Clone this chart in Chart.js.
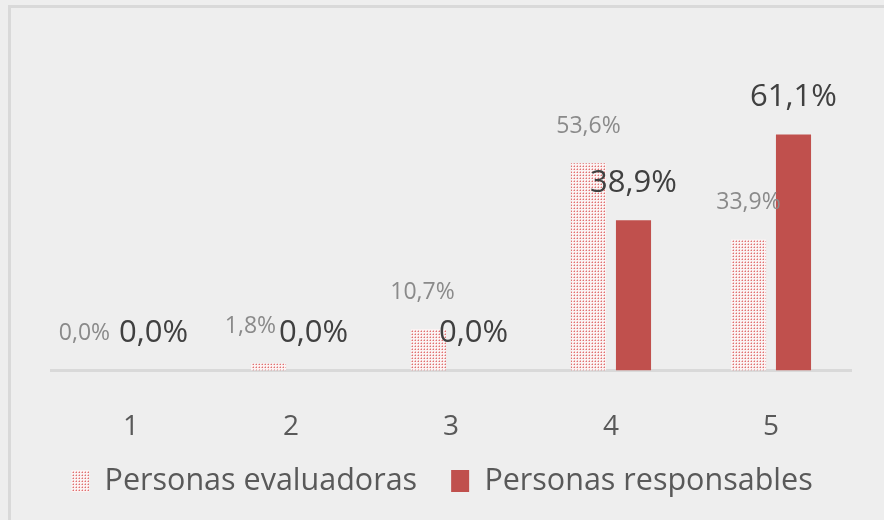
<!DOCTYPE html>
<html>
<head>
<meta charset="utf-8">
<script src="https://cdn.jsdelivr.net/npm/chart.js@4.4.1/dist/chart.umd.min.js"></script>
<style>
html,body{margin:0;padding:0;background:#eeeeee;}
#wrap{position:relative;width:884px;height:520px;}
#frame{position:absolute;left:8px;top:5px;width:900px;height:600px;border-left:3px solid #d9d9d9;border-top:3px solid #d9d9d9;box-sizing:border-box;}
canvas{position:absolute;left:0;top:0;}
</style>
</head>
<body>
<div id="wrap"><div id="frame"></div><canvas id="c" width="884" height="520"></canvas></div>
<script>
const categories = ['1', '2', '3', '4', '5'];
const seriesNames = ['Personas evaluadoras', 'Personas responsables'];
const evaluadoras = [0.0, 1.8, 10.7, 53.6, 33.9];
const responsables = [0.0, 0.0, 0.0, 38.9, 61.1];

function makePattern() {
  const p = document.createElement('canvas');
  p.width = 3; p.height = 3;
  const g = p.getContext('2d');
  g.fillStyle = '#fbf3f3';
  g.fillRect(0, 0, 3, 3);
  g.fillStyle = '#e07070';
  g.fillRect(1, 1, 1, 1);
  g.fillStyle = '#f0b8b8';
  g.fillRect(0, 1, 1, 1);
  g.fillRect(1, 0, 1, 1);
  return g.createPattern(p, 'repeat');
}
const pattern = makePattern();

const fmt = v => v.toFixed(1).replace('.', ',') + '%';

const labelPlugin = {
  id: 'barLabels',
  afterDatasetsDraw(chart) {
    const ctx = chart.ctx;
    const styles = [
      {font: '23px "Open Sans", sans-serif', color: '#8a8a8a', dx: [-24, -18, -6, 0, 0]},
      {font: '31px "Open Sans", sans-serif', color: '#404040', dx: [0, 0, 0, 0, 0]}
    ];
    chart.data.datasets.forEach((ds, di) => {
      const meta = chart.getDatasetMeta(di);
      const st = styles[di];
      ctx.save();
      ctx.font = st.font;
      ctx.fillStyle = st.color;
      ctx.textAlign = 'center';
      ctx.textBaseline = 'middle';
      meta.data.forEach((bar, i) => {
        ctx.fillText(fmt(ds.data[i]), bar.x + st.dx[i], bar.y - 37);
      });
      ctx.restore();
    });
  }
};

const LEGEND_PAD = 34;
const LEGEND_FONT = 30.5;
const legendSizePlugin = {
  id: 'legendSize',
  beforeLayout(chart) {
    const lg = chart.legend;
    if (lg && !lg._sized) {
      const f = lg.fit;
      lg.fit = function () { f.call(this); this.height = 36; };
      lg._sized = true;
    }
  },
  afterLayout(chart) {
    const lg = chart.legend;
    if (lg) {
      lg.top = 484 - LEGEND_PAD - LEGEND_FONT * 0.6;
      lg.bottom = chart.height;
      lg.height = lg.bottom - lg.top;
    }
  }
};

const hiddenAxis = (pos, w) => ({
  position: pos,
  display: true,
  min: 0,
  max: 70,
  grid: {display: false, drawTicks: false},
  border: {display: false},
  ticks: {display: false},
  afterFit(scale) { scale.width = w; }
});

const yLeft = hiddenAxis('left', 51);
const yRight = hiddenAxis('right', 33);

new Chart(document.getElementById('c'), {
  type: 'bar',
  data: {
    labels: categories,
    datasets: [
      {label: seriesNames[0], data: evaluadoras, backgroundColor: pattern, borderWidth: 0},
      {label: seriesNames[1], data: responsables, backgroundColor: '#c0504d', borderWidth: 0}
    ]
  },
  options: {
    responsive: false,
    animation: false,
    categoryPercentage: 0.5625,
    barPercentage: 0.78,
    layout: {padding: {left: 0, right: 0, top: 100, bottom: 0}},
    scales: {
      x: {
        grid: {display: false, drawTicks: false},
        border: {display: true, color: '#d9d9d9', width: 3},
        ticks: {color: '#595959', font: {size: 28, family: '"Open Sans", sans-serif'}, padding: 40}
      },
      y: yLeft,
      y2: yRight
    },
    plugins: {
      legend: {
        position: 'bottom',
        labels: {
          color: '#595959',
          font: {size: LEGEND_FONT, family: '"Open Sans", sans-serif'},
          boxWidth: 18,
          boxHeight: 22,
          padding: LEGEND_PAD
        }
      },
      tooltip: {enabled: false}
    }
  },
  plugins: [labelPlugin, legendSizePlugin]
});
</script>
</body>
</html>
